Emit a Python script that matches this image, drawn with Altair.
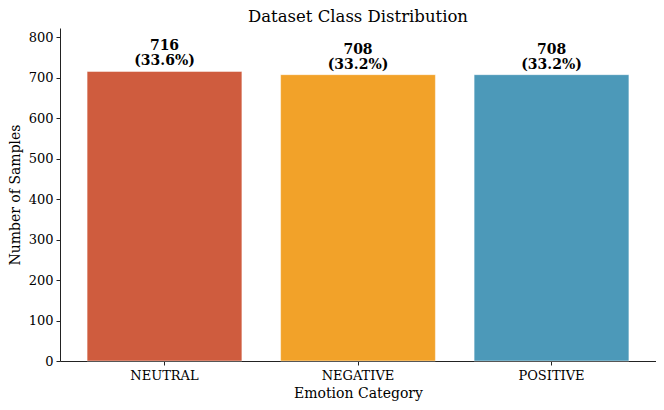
import altair as alt
import pandas as pd

categories = ["NEUTRAL", "NEGATIVE", "POSITIVE"]
counts = [716, 708, 708]
percents = ["33.6%", "33.2%", "33.2%"]
colors = ["#CF5C3E", "#F2A229", "#4C99B9"]

df = pd.DataFrame({
    "cat": categories,
    "count": counts,
    "label": [f"{c}\n({p})" for c, p in zip(counts, percents)],
    "color": colors,
})

FONT = "DejaVu Serif"
ymax = max(counts) * 1.15

x = alt.X("cat:N", sort=categories, title="Emotion Category",
          scale=alt.Scale(paddingInner=0.2, paddingOuter=0.14),
          axis=alt.Axis(labelAngle=0))
y = alt.Y("count:Q", title="Number of Samples",
          scale=alt.Scale(domain=[0, ymax], nice=False),
          axis=alt.Axis(values=list(range(0, 801, 100))))

bars = alt.Chart(df).mark_bar(stroke="white", strokeOpacity=0.6, strokeWidth=0.8).encode(
    x=x, y=y, color=alt.Color("color:N", scale=None))

text = alt.Chart(df).mark_text(font=FONT, fontSize=14, fontWeight="bold", baseline="bottom",
                               dy=-18, lineBreak="\n", lineHeight=15, color="black").encode(
    x=alt.X("cat:N", sort=categories), y="count:Q", text="label:N")

chart = (bars + text).properties(
    width=596, height=333,
    title=alt.Title("Dataset Class Distribution", font=FONT, fontSize=16.5, fontWeight="normal",
                    color="#000", offset=3),
    autosize=alt.AutoSizeParams(type="none"),
    padding={"left": 52, "top": 20, "right": 0, "bottom": 41},
).configure_view(stroke=None).configure_axis(
    labelFontSize=13, titleFontSize=14, labelFont=FONT, titleFont=FONT,
    labelColor="#000", titleColor="#000", titleFontWeight="normal",
    domainColor="#222", tickColor="#222", tickSize=4, grid=False,
).configure_axisX(labelPadding=4, titlePadding=4).configure_axisY(labelPadding=3, titlePadding=6)

chart.save("out.html", embed_options={"renderer": "svg", "actions": False})
